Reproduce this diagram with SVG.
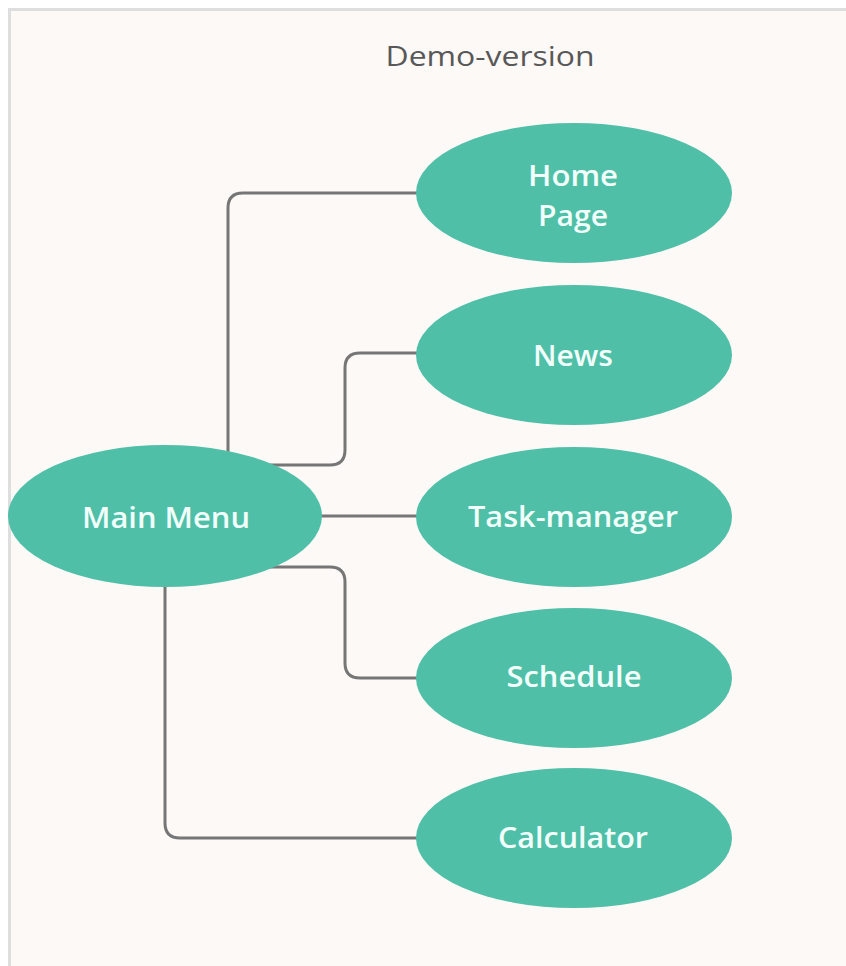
<svg xmlns="http://www.w3.org/2000/svg" width="846" height="966" viewBox="0 0 846 966">
  <style>
    .node { fill: #4fbfa8; }
    .label { font-family: "Open Sans", "Noto Sans", sans-serif; font-size: 28px; fill: #f2fffb; text-anchor: middle; font-weight: 600; }
    .title { font-family: "Open Sans", "Noto Sans", sans-serif; font-size: 27px; fill: #585858; text-anchor: middle; }
    .link { fill: none; stroke: #767676; stroke-width: 3; stroke-linecap: round; }
  </style>
  <!-- page -->
  <rect x="0" y="0" width="846" height="966" fill="#ffffff"/>
  <rect x="10" y="10" width="836" height="956" fill="#fcf9f7"/>
  <line x1="10" y1="9.5" x2="846" y2="9.5" stroke="#dedede" stroke-width="3"/>
  <line x1="9.5" y1="8" x2="9.5" y2="966" stroke="#dedede" stroke-width="3"/>

  <text class="title" x="490" y="66" textLength="209" lengthAdjust="spacingAndGlyphs">Demo-version</text>

  <g id="connectors">
    <path class="link" d="M228 452 V208 Q228 193 243 193 H418"/>
    <path class="link" d="M270 465 H330 Q345 465 345 450 V368 Q345 353 360 353 H418"/>
    <path class="link" d="M320 516 H418"/>
    <path class="link" d="M270 567 H330 Q345 567 345 582 V663 Q345 678 360 678 H418"/>
    <path class="link" d="M165 585 V823 Q165 838 180 838 H418"/>
  </g>

  <g id="main-menu">
    <ellipse class="node" cx="165" cy="516" rx="157" ry="71"/>
    <text class="label" x="166" y="528" textLength="168" lengthAdjust="spacingAndGlyphs">Main Menu</text>
  </g>
  <g id="home-page">
    <ellipse class="node" cx="574" cy="193" rx="158" ry="70"/>
    <text class="label" x="573" y="186" textLength="90" lengthAdjust="spacingAndGlyphs">Home</text>
    <text class="label" x="573" y="226" textLength="70" lengthAdjust="spacingAndGlyphs">Page</text>
  </g>
  <g id="news">
    <ellipse class="node" cx="574" cy="355" rx="158" ry="70"/>
    <text class="label" x="573" y="366" textLength="80" lengthAdjust="spacingAndGlyphs">News</text>
  </g>
  <g id="task-manager">
    <ellipse class="node" cx="574" cy="517" rx="158" ry="70"/>
    <text class="label" x="573" y="527" textLength="210" lengthAdjust="spacingAndGlyphs">Task-manager</text>
  </g>
  <g id="schedule">
    <ellipse class="node" cx="574" cy="678" rx="158" ry="70"/>
    <text class="label" x="574" y="687" textLength="135" lengthAdjust="spacingAndGlyphs">Schedule</text>
  </g>
  <g id="calculator">
    <ellipse class="node" cx="574" cy="838" rx="158" ry="70"/>
    <text class="label" x="573" y="848" textLength="150" lengthAdjust="spacingAndGlyphs">Calculator</text>
  </g>
</svg>
